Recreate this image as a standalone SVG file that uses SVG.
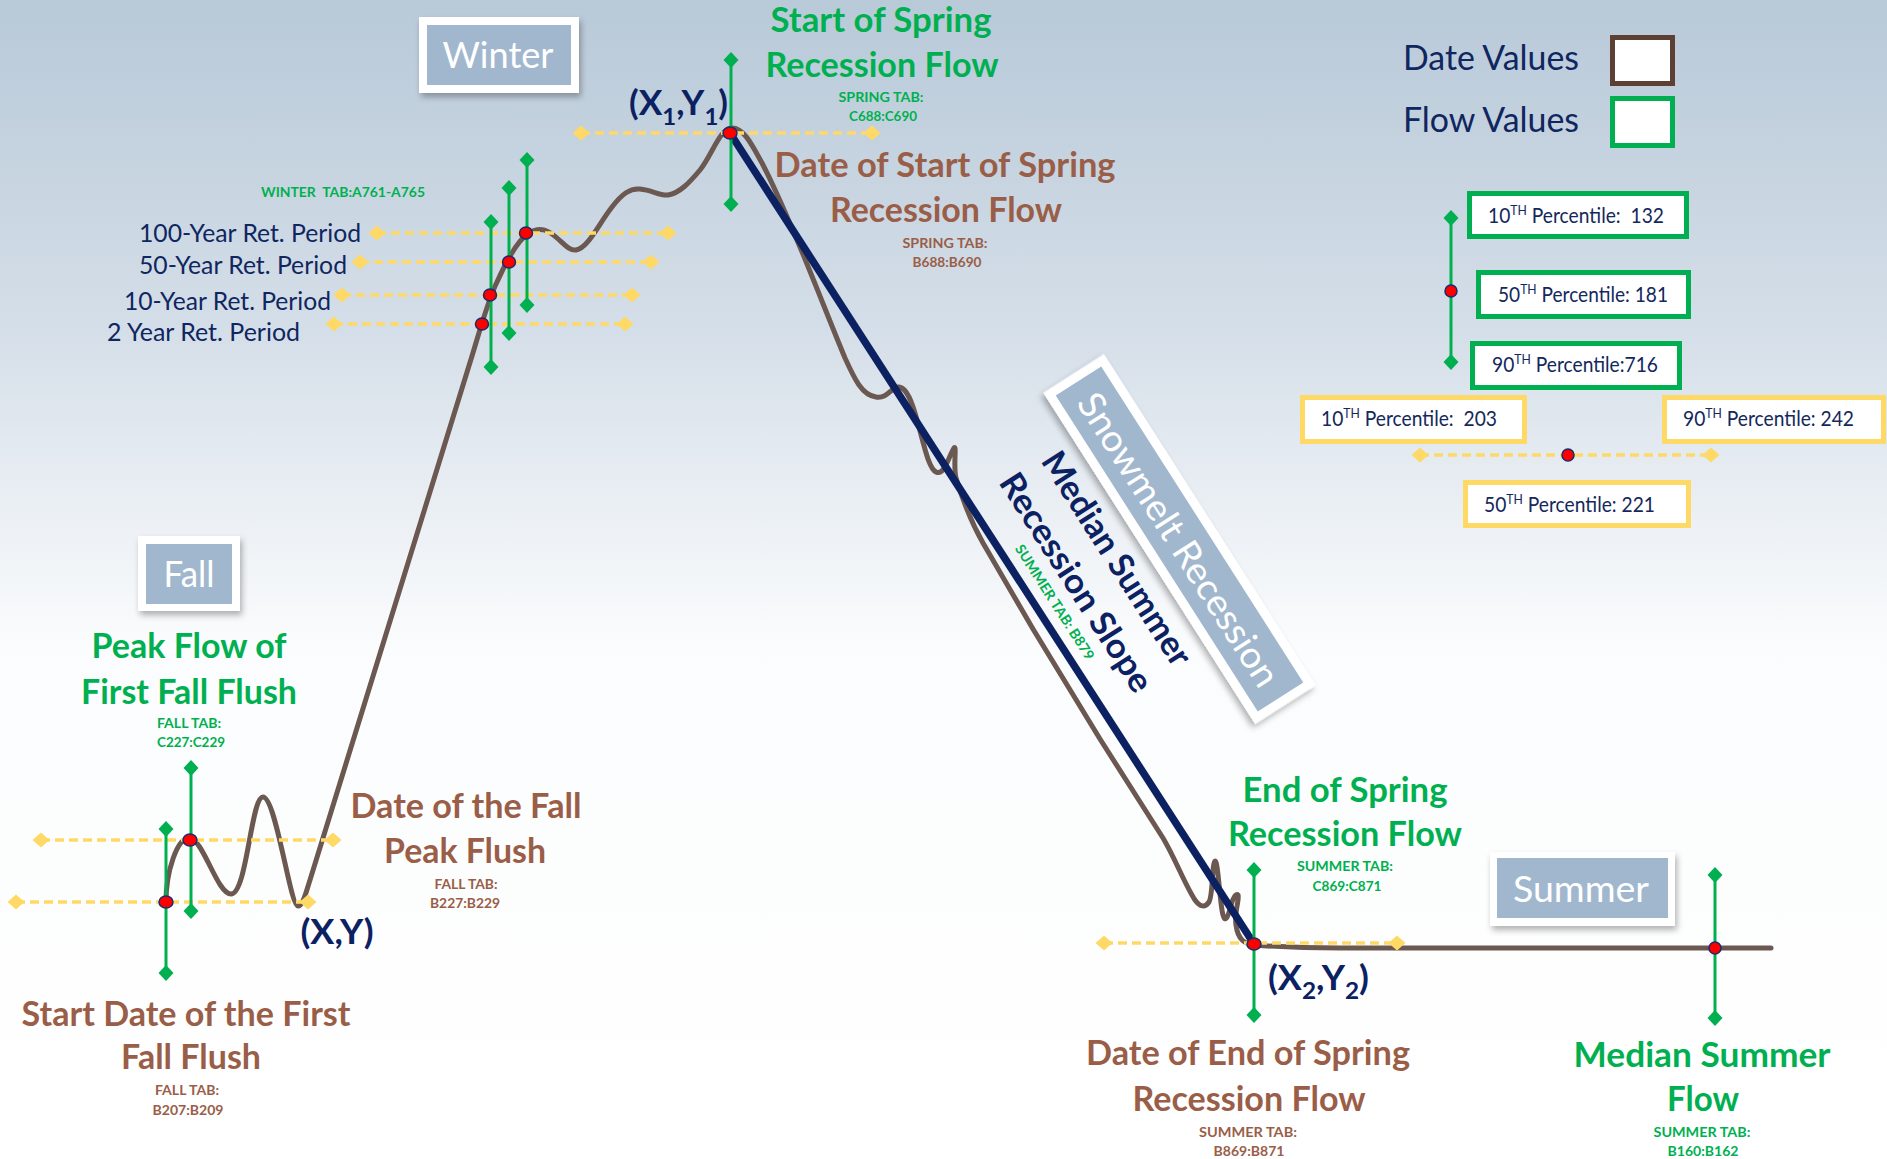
<svg xmlns="http://www.w3.org/2000/svg" width="1887" height="1159" viewBox="0 0 1887 1159">
<defs>
<linearGradient id="bg" x1="0" y1="0" x2="0" y2="1159" gradientUnits="userSpaceOnUse">
<stop offset="0" stop-color="#b8c9d8"/>
<stop offset="0.28" stop-color="#d4dee8"/>
<stop offset="0.56" stop-color="#fbfcfd"/>
<stop offset="1" stop-color="#ffffff"/>
</linearGradient>
<filter id="sh" x="-20%" y="-20%" width="140%" height="160%">
<feDropShadow dx="2" dy="4" stdDeviation="3" flood-color="#000" flood-opacity="0.3"/>
</filter>
<marker id="dy" viewBox="-9 -9 18 18" markerWidth="18" markerHeight="18" refX="0" refY="0" markerUnits="userSpaceOnUse" orient="0">
<path d="M-8.5,0 L0,-7.5 L8.5,0 L0,7.5 Z" fill="#ffd966"/>
</marker>
<marker id="dg" viewBox="-9 -9 18 18" markerWidth="18" markerHeight="18" refX="0" refY="0" markerUnits="userSpaceOnUse" orient="0">
<path d="M-7.5,0 L0,-8 L7.5,0 L0,8 Z" fill="#00b050"/>
</marker>
<style>
text{font-family:Lato,"Liberation Sans",sans-serif}
.yl{stroke:#ffd966;stroke-width:3.5;stroke-dasharray:9 5;fill:none;marker-start:url(#dy);marker-end:url(#dy)}
.gl{stroke:#00b050;stroke-width:3;fill:none;marker-start:url(#dg);marker-end:url(#dg)}
.dot{fill:#ff0000;stroke:#1a2a6c;stroke-width:1.5}
.curve{fill:none;stroke:#6b5850;stroke-width:5;stroke-linecap:round;stroke-linejoin:round}
.slope{stroke:#0b2162;stroke-width:7.5;fill:none}
.big{font-size:34px;font-weight:700;text-anchor:middle}
.sm{font-size:14px;font-weight:700;text-anchor:middle}
.g{fill:#00b050}
.b{fill:#9a5e48}
.n{fill:#0b2162}
.ret{font-size:25px;fill:#0f2660}
.pct{font-size:22px;fill:#14285c}
.sup{font-size:14px}
.seasonOut{fill:#ffffff}
.seasonIn{fill:#a1b7ce}
.season{font-size:37px;fill:#ffffff;text-anchor:middle}
.gbox{fill:#ffffff;stroke:#00b050;stroke-width:5}
.ybox{fill:#ffffff;stroke:#ffd966;stroke-width:5}
.leg{font-size:34px;fill:#0f2660}
</style>
</defs>
<rect x="0" y="0" width="1887" height="1159" fill="url(#bg)"/>

<g id="connectors">
<path class="curve" d="M166,902 C166,872 177,838 189,838 C203,838 217,894 231,894 C247,894 251,797 263,797 C276,797 290,906 298,906 C303,906 306,892 310,880 L472,356 C480,330 488,300 497,282 C506,262 517,240 529,233 C540,226 548,230 557,238 C565,245 570,251 576,250 C588,248 598,225 612,207 C622,194 630,188 640,189 C652,190 660,196 668,195 C680,193 690,182 700,170 C712,155 720,128 732,128 C744,128 752,145 762,163 C774,186 786,214 797,240 C810,270 830,322 845,358 C855,380 862,395 876,397 C888,399 892,386 899,387 C907,388 912,402 917,420 C923,440 928,468 936,472 C944,476 948,458 954,448 C957,444 953,466 956,478 C962,498 970,520 983,543 L1033,629 L1100,739 L1163,838 C1175,858 1185,885 1195,900 C1200,907 1205,908 1209,902 C1213,896 1212,862 1215,861 C1218,860 1220,905 1223,915 C1225,923 1228,918 1231,905 C1233,898 1236,893 1238,895 C1240,898 1234,912 1236,925 C1238,940 1245,944 1254,945 C1280,947 1300,948 1340,948 L1771,948"/>
<line class="slope" x1="730" y1="133" x2="1254" y2="944"/>
<line class="yl" x1="41" y1="840" x2="333" y2="840"/>
<line class="yl" x1="16" y1="902" x2="308" y2="902"/>
<line class="yl" x1="377" y1="233" x2="668" y2="233"/>
<line class="yl" x1="360" y1="262" x2="651" y2="262"/>
<line class="yl" x1="342" y1="295" x2="632" y2="295"/>
<line class="yl" x1="334" y1="324" x2="625" y2="324"/>
<line class="yl" x1="581" y1="133" x2="872" y2="133"/>
<line class="yl" x1="1104" y1="943" x2="1397" y2="943"/>
<line class="yl" x1="1420" y1="455" x2="1711" y2="455"/>
<line class="gl" x1="166" y1="829" x2="166" y2="973"/>
<line class="gl" x1="191" y1="768" x2="191" y2="911"/>
<line class="gl" x1="491" y1="222" x2="491" y2="367"/>
<line class="gl" x1="509" y1="188" x2="509" y2="333"/>
<line class="gl" x1="527" y1="160" x2="527" y2="305"/>
<line class="gl" x1="731" y1="60" x2="731" y2="204"/>
<line class="gl" x1="1254" y1="870" x2="1254" y2="1015"/>
<line class="gl" x1="1715" y1="875" x2="1715" y2="1018"/>
<line class="gl" x1="1451" y1="218" x2="1451" y2="362"/>
<ellipse class="dot" cx="166" cy="902" rx="7" ry="6"/>
<ellipse class="dot" cx="190" cy="840" rx="7" ry="6"/>
<ellipse class="dot" cx="482" cy="324" rx="6.5" ry="6"/>
<ellipse class="dot" cx="490" cy="295" rx="6.5" ry="6"/>
<ellipse class="dot" cx="509" cy="262" rx="6.5" ry="6"/>
<ellipse class="dot" cx="526" cy="233" rx="6.5" ry="6"/>
<ellipse class="dot" cx="730" cy="133" rx="7" ry="6"/>
<ellipse class="dot" cx="1254" cy="944" rx="7" ry="6"/>
<ellipse class="dot" cx="1715" cy="948" rx="6" ry="6"/>
<ellipse class="dot" cx="1451" cy="291" rx="6" ry="6"/>
<ellipse class="dot" cx="1568" cy="455" rx="6" ry="6"/>
</g>

<g id="winter">
<rect class="seasonOut" x="419" y="17" width="160" height="76" filter="url(#sh)"/>
<rect class="seasonIn" x="427" y="25" width="144" height="60"/>
<text class="season" x="498" y="68" textLength="111" lengthAdjust="spacingAndGlyphs">Winter</text>
</g>
<g id="fall">
<rect class="seasonOut" x="138" y="536" width="102" height="75" filter="url(#sh)"/>
<rect class="seasonIn" x="146" y="544" width="86" height="60"/>
<text class="season" x="189" y="587" textLength="51" lengthAdjust="spacingAndGlyphs">Fall</text>
</g>
<g id="summer">
<rect class="seasonOut" x="1490" y="852" width="185" height="74" filter="url(#sh)"/>
<rect class="seasonIn" x="1497" y="858" width="171" height="60"/>
<text class="season" x="1581" y="902" textLength="136" lengthAdjust="spacingAndGlyphs">Summer</text>
</g>
<g id="snowmelt" transform="translate(1179.5,539) rotate(57.4)">
<rect class="seasonOut" x="-196.5" y="-36" width="393" height="72" filter="url(#sh)"/>
<rect class="seasonIn" x="-187.5" y="-27" width="375" height="54"/>
<text class="season" x="0" y="14" font-size="41" textLength="341" lengthAdjust="spacingAndGlyphs">Snowmelt Recession</text>
</g>

<g id="slope-label" transform="translate(1118,558) rotate(57.3)">
<text class="big n" x="0" y="13" font-size="37" textLength="247" lengthAdjust="spacingAndGlyphs">Median Summer</text>
<text class="big n" x="-2" y="60" font-size="37" textLength="253" lengthAdjust="spacingAndGlyphs">Recession Slope</text>
<text class="sm g" x="3" y="82" font-weight="400" font-size="15" textLength="134" lengthAdjust="spacingAndGlyphs">SUMMER TAB: B879</text>
</g>

<g id="legend">
<text class="leg" x="1403" y="70" textLength="176" lengthAdjust="spacingAndGlyphs">Date Values</text>
<rect x="1612.5" y="37.5" width="60" height="46" fill="#ffffff" stroke="#5d4034" stroke-width="5"/>
<text class="leg" x="1403" y="132" textLength="176" lengthAdjust="spacingAndGlyphs">Flow Values</text>
<rect x="1612.5" y="98.5" width="60" height="47" fill="#ffffff" stroke="#00b050" stroke-width="5"/>
</g>

<g id="flow-percentiles">
<rect class="gbox" x="1469.5" y="193.5" width="217" height="43"/>
<text class="pct" x="1488" y="223" xml:space="preserve" textLength="176" lengthAdjust="spacingAndGlyphs">10<tspan class="sup" dy="-8">TH</tspan><tspan dy="8"> Percentile:  132</tspan></text>
<rect class="gbox" x="1478.5" y="272.5" width="210" height="44"/>
<text class="pct" x="1498" y="302" xml:space="preserve" textLength="170" lengthAdjust="spacingAndGlyphs">50<tspan class="sup" dy="-8">TH</tspan><tspan dy="8"> Percentile: 181</tspan></text>
<rect class="gbox" x="1472.5" y="343.5" width="207" height="44"/>
<text class="pct" x="1492" y="372" xml:space="preserve" textLength="166" lengthAdjust="spacingAndGlyphs">90<tspan class="sup" dy="-8">TH</tspan><tspan dy="8"> Percentile:716</tspan></text>
</g>
<g id="date-percentiles">
<rect class="ybox" x="1302.5" y="397.5" width="222" height="44"/>
<text class="pct" x="1321" y="426" xml:space="preserve" textLength="176" lengthAdjust="spacingAndGlyphs">10<tspan class="sup" dy="-8">TH</tspan><tspan dy="8"> Percentile:  203</tspan></text>
<rect class="ybox" x="1664.5" y="397.5" width="219" height="44"/>
<text class="pct" x="1683" y="426" xml:space="preserve" textLength="171" lengthAdjust="spacingAndGlyphs">90<tspan class="sup" dy="-8">TH</tspan><tspan dy="8"> Percentile: 242</tspan></text>
<rect class="ybox" x="1465.5" y="482.5" width="223" height="43"/>
<text class="pct" x="1484" y="512" xml:space="preserve" textLength="171" lengthAdjust="spacingAndGlyphs">50<tspan class="sup" dy="-8">TH</tspan><tspan dy="8"> Percentile: 221</tspan></text>
</g>

<g id="winter-return-periods">
<text class="sm g" x="343" y="197" textLength="164" lengthAdjust="spacingAndGlyphs" xml:space="preserve">WINTER  TAB:A761-A765</text>
<text class="ret" x="139" y="242" textLength="222" lengthAdjust="spacingAndGlyphs">100-Year Ret. Period</text>
<text class="ret" x="139" y="274" textLength="208" lengthAdjust="spacingAndGlyphs">50-Year Ret. Period</text>
<text class="ret" x="124" y="310" textLength="207" lengthAdjust="spacingAndGlyphs">10-Year Ret. Period</text>
<text class="ret" x="107" y="341" textLength="193" lengthAdjust="spacingAndGlyphs">2 Year Ret. Period</text>
</g>

<g id="peak-flow-fall">
<text class="big g" x="189" y="658" textLength="195" lengthAdjust="spacingAndGlyphs">Peak Flow of</text>
<text class="big g" x="189" y="704" textLength="216" lengthAdjust="spacingAndGlyphs">First Fall Flush</text>
<text class="sm g" x="189" y="728" textLength="64" lengthAdjust="spacingAndGlyphs">FALL TAB:</text>
<text class="sm g" x="191" y="747" textLength="68" lengthAdjust="spacingAndGlyphs">C227:C229</text>
</g>
<g id="date-fall-peak">
<text class="big b" x="466" y="818" textLength="231" lengthAdjust="spacingAndGlyphs">Date of the Fall</text>
<text class="big b" x="465" y="863" textLength="162" lengthAdjust="spacingAndGlyphs">Peak Flush</text>
<text class="sm b" x="466" y="889" textLength="63" lengthAdjust="spacingAndGlyphs">FALL TAB:</text>
<text class="sm b" x="465" y="908" textLength="70" lengthAdjust="spacingAndGlyphs">B227:B229</text>
</g>
<g id="xy">
<text class="big n" x="337" y="944" textLength="73" lengthAdjust="spacingAndGlyphs">(X,Y)</text>
</g>
<g id="start-date-fall">
<text class="big b" x="186" y="1026" textLength="329" lengthAdjust="spacingAndGlyphs">Start Date of the First</text>
<text class="big b" x="191" y="1069" textLength="140" lengthAdjust="spacingAndGlyphs">Fall Flush</text>
<text class="sm b" x="187" y="1095" textLength="64" lengthAdjust="spacingAndGlyphs">FALL TAB:</text>
<text class="sm b" x="188" y="1115" textLength="71" lengthAdjust="spacingAndGlyphs">B207:B209</text>
</g>
<g id="start-spring-flow">
<text class="big g" x="881" y="32" textLength="221" lengthAdjust="spacingAndGlyphs">Start of Spring</text>
<text class="big g" x="882" y="77" textLength="233" lengthAdjust="spacingAndGlyphs">Recession Flow</text>
<text class="sm g" x="881" y="102" textLength="85" lengthAdjust="spacingAndGlyphs">SPRING TAB:</text>
<text class="sm g" x="883" y="121" textLength="68" lengthAdjust="spacingAndGlyphs">C688:C690</text>
</g>
<g id="x1y1">
<text class="big n" x="629" y="115" style="text-anchor:start" textLength="99" lengthAdjust="spacingAndGlyphs">(X<tspan font-size="23" dy="10">1</tspan><tspan dy="-10">,Y</tspan><tspan font-size="23" dy="10">1</tspan><tspan dy="-10">)</tspan></text>
</g>
<g id="date-start-spring">
<text class="big b" x="945" y="177" textLength="341" lengthAdjust="spacingAndGlyphs">Date of Start of Spring</text>
<text class="big b" x="946" y="222" textLength="232" lengthAdjust="spacingAndGlyphs">Recession Flow</text>
<text class="sm b" x="945" y="248" textLength="85" lengthAdjust="spacingAndGlyphs">SPRING TAB:</text>
<text class="sm b" x="947" y="267" textLength="69" lengthAdjust="spacingAndGlyphs">B688:B690</text>
</g>
<g id="end-spring-flow">
<text class="big g" x="1345" y="802" textLength="205" lengthAdjust="spacingAndGlyphs">End of Spring</text>
<text class="big g" x="1345" y="846" textLength="234" lengthAdjust="spacingAndGlyphs">Recession Flow</text>
<text class="sm g" x="1345" y="871" textLength="96" lengthAdjust="spacingAndGlyphs">SUMMER TAB:</text>
<text class="sm g" x="1347" y="891" textLength="69" lengthAdjust="spacingAndGlyphs">C869:C871</text>
</g>
<g id="x2y2">
<text class="big n" x="1268" y="990" style="text-anchor:start" textLength="101" lengthAdjust="spacingAndGlyphs">(X<tspan font-size="23" dy="9">2</tspan><tspan dy="-9">,Y</tspan><tspan font-size="23" dy="9">2</tspan><tspan dy="-9">)</tspan></text>
</g>
<g id="date-end-spring">
<text class="big b" x="1248" y="1065" textLength="324" lengthAdjust="spacingAndGlyphs">Date of End of Spring</text>
<text class="big b" x="1249" y="1111" textLength="233" lengthAdjust="spacingAndGlyphs">Recession Flow</text>
<text class="sm b" x="1248" y="1137" textLength="98" lengthAdjust="spacingAndGlyphs">SUMMER TAB:</text>
<text class="sm b" x="1249" y="1156" textLength="71" lengthAdjust="spacingAndGlyphs">B869:B871</text>
</g>
<g id="median-summer-flow">
<text class="big g" x="1702" y="1067" textLength="257" lengthAdjust="spacingAndGlyphs">Median Summer</text>
<text class="big g" x="1703" y="1111" textLength="72" lengthAdjust="spacingAndGlyphs">Flow</text>
<text class="sm g" x="1702" y="1137" textLength="97" lengthAdjust="spacingAndGlyphs">SUMMER TAB:</text>
<text class="sm g" x="1703" y="1156" textLength="71" lengthAdjust="spacingAndGlyphs">B160:B162</text>
</g>
</svg>
